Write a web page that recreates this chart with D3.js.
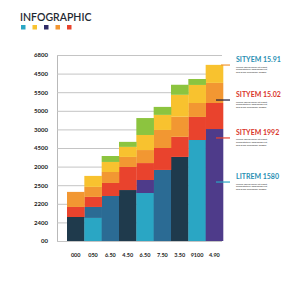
<!DOCTYPE html>
<html lang="en">
<head>
    <meta charset="UTF-8">
    <title>Infographic</title>
    <script src="https://d3js.org/d3.v7.min.js" charset="utf-8"></script>
    <style>
        body { margin: 0; background: #fff; }
        svg text { font-family: Lato, "Open Sans", sans-serif; }
        .grid .domain { stroke: #b9b9b9; }
        .grid line { stroke: #c4c4c4; }
        .grid text { font-size: 6px; font-weight: 700; fill: #222; }
        .xaxis text { font-size: 5.5px; font-weight: 700; fill: #222; }
    </style>
</head>
<body>
<div id="chart"></div>
<script>

    // data (units = grid steps)
    var categories = ["000", "050", "6.50", "4.50", "6.50", "7.50", "3.50", "9100", "4.90"];
    var tickLabels = ["00", "2400", "2200", "2500", "2000", "4500", "3000", "5000", "5500", "4500", "6800"];
    var baseVals   = [1.29, 1.24, 2.42, 2.74, 2.58, 3.82, 4.52, 5.43, 6.02];
    var midVals    = [0, 0.59, 0, 0, 0.70, 0, 0, 0, 0];
    var redVals    = [0.54, 0.54, 0.70, 1.24, 0.91, 1.18, 1.08, 1.24, 1.40];
    var orangeVals = [0.81, 0.54, 0.59, 0.54, 0.70, 0.97, 1.08, 0.75, 1.08];
    var yellowVals = [0, 0.59, 0.54, 0.54, 0.81, 0.81, 1.18, 0.97, 0.97];
    var greenVals  = [0, 0, 0.32, 0.27, 0.91, 0.43, 0.54, 0.32, 0];
    var notes = [
        {title: "SITYEM 15.91", at: 9.46},
        {title: "SITYEM 15.02", at: 7.58},
        {title: "SITYEM 1992", at: 5.54},
        {title: "LITREM 1580", at: 3.17}
    ];
    var loremLines = ["Lorem ipsum dolor sit amet,", "consectetuer adipiscing elit,", "sed diam nonummy magna"];

    var baseColors = ["#1f3a4c", "#2aa6c4", "#2b6b94", "#1f3a4c", "#2aa6c4", "#2b6b94", "#1f3a4c", "#2aa6c4", "#4e3b8a"];
    var midColors = ["#2b6b94", "#2b6b94", "#2b6b94", "#2b6b94", "#4e3b8a", "#2b6b94", "#2b6b94", "#2b6b94", "#2b6b94"];
    var layerColors = {red: "#e9432d", orange: "#f29732", yellow: "#f8c22f", green: "#8cc43f"};
    var noteColors = ["#2a8fb3", "#d9352a", "#d9352a", "#2a8fb3"];
    var markColors = ["#f29732", "#1b1b3a", "#e9432d", "#2aa6c4"];

    var svg = d3.select("#chart").append("svg").attr("width", 300).attr("height", 300);

    var y = d3.scaleLinear().domain([0, 10]).range([241, 55]);
    var x = d3.scaleBand().domain(d3.range(categories.length)).range([67, 223]).padding(0);

    // title + swatches
    svg.append("text").attr("x", 20).attr("y", 21).text("INFOGRAPHIC")
        .style("font-size", "10.5px").style("font-weight", 600).style("fill", "#1f2a33");
    svg.selectAll(".sw").data(["#2aa6c4", "#f8c22f", "#2e2a66", "#f29732", "#e9432d"]).enter()
        .append("rect").attr("class", "sw")
        .attr("x", function (d, i) { return 21 + i * 11.5; }).attr("y", 25)
        .attr("width", 4.5).attr("height", 4.5).attr("fill", function (d) { return d; });

    // grid / y axis
    svg.append("g").attr("class", "grid").attr("transform", "translate(57,0)")
        .call(d3.axisLeft(y).tickValues(d3.range(11))
            .tickFormat(function (d) { return tickLabels[d]; })
            .tickSizeInner(-165).tickSizeOuter(0).tickPadding(9));

    // stacked bars
    var rows = categories.map(function (c, i) {
        return {i: i, base: baseVals[i], mid: midVals[i], red: redVals[i],
            orange: orangeVals[i], yellow: yellowVals[i], green: greenVals[i]};
    });
    var keys = ["base", "mid", "red", "orange", "yellow", "green"];
    var series = d3.stack().keys(keys)(rows);

    series.forEach(function (s) {
        svg.append("g").selectAll("rect").data(s).enter().append("rect")
            .attr("x", function (d) { return x(d.data.i); })
            .attr("width", x.bandwidth() + 0.3)
            .attr("y", function (d) { return y(d[1]); })
            .attr("height", function (d) { return y(d[0]) - y(d[1]); })
            .attr("fill", function (d) {
                if (s.key == "base") return baseColors[d.data.i];
                if (s.key == "mid") return midColors[d.data.i];
                return layerColors[s.key];
            });
    });

    // x axis labels
    svg.append("g").attr("class", "xaxis").attr("transform", "translate(0,241)")
        .call(d3.axisBottom(x).tickFormat(function (d) { return categories[d]; })
            .tickSize(0).tickPadding(12))
        .select(".domain").remove();

    // side notes
    var noteG = svg.selectAll(".note").data(notes).enter().append("g").attr("class", "note");
    noteG.append("line")
        .attr("x1", function (d, i) { return i == 0 ? 221 : 216; }).attr("x2", 230)
        .attr("y1", function (d) { return y(d.at); }).attr("y2", function (d) { return y(d.at); })
        .attr("stroke", function (d, i) { return markColors[i]; }).attr("stroke-width", 1.2);
    noteG.append("text").attr("x", 236)
        .attr("y", function (d) { return y(d.at) - 3; })
        .text(function (d) { return d.title; })
        .style("font-size", "7px").style("font-weight", 700)
        .style("fill", function (d, i) { return noteColors[i]; });
    loremLines.forEach(function (l, k) {
        noteG.append("text").attr("x", 236)
            .attr("y", function (d) { return y(d.at) + 2.5 + k * 2.8; })
            .text(l).style("font-size", "2.6px").style("fill", "#333");
    });

</script>
</body>
</html>
